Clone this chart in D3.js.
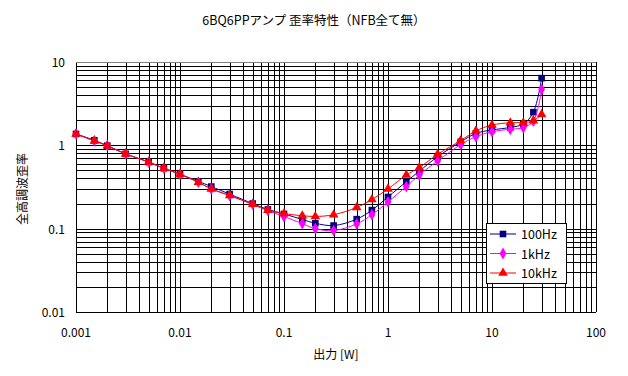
<!DOCTYPE html>
<html>
<head>
<meta charset="utf-8">
<script src="https://cdn.jsdelivr.net/npm/d3@7"></script>
<style>
  body { margin: 0; background: white; }
  text { font-family: "Noto Sans CJK JP", sans-serif; }
</style>
</head>
<body>
<div id="chart"></div>
<script>
const power = [0.001, 0.0015, 0.002, 0.003, 0.005, 0.007, 0.01, 0.015, 0.02, 0.03, 0.05, 0.07,
  0.1, 0.15, 0.2, 0.3, 0.5, 0.7, 1, 1.5, 2, 3, 5, 7, 10, 15, 20, 25, 30];
const thd100 = [1.37, 1.15, 0.99, 0.79, 0.63, 0.53, 0.45, 0.37, 0.32, 0.26, 0.20, 0.17,
  0.15, 0.129, 0.116, 0.109, 0.13, 0.167, 0.24, 0.366, 0.49, 0.73, 1.1, 1.39, 1.53, 1.64, 1.80, 2.5, 6.4];
const thd1k = [1.37, 1.13, 0.99, 0.79, 0.63, 0.53, 0.45, 0.36, 0.30, 0.25, 0.196, 0.165,
  0.14, 0.115, 0.10, 0.095, 0.114, 0.147, 0.21, 0.32, 0.44, 0.65, 1.02, 1.27, 1.46, 1.56, 1.63, 1.95, 4.7];
const thd10k = [1.37, 1.13, 0.99, 0.79, 0.63, 0.53, 0.45, 0.36, 0.30, 0.25, 0.196, 0.167,
  0.152, 0.143, 0.14, 0.147, 0.18, 0.224, 0.30, 0.44, 0.54, 0.78, 1.14, 1.49, 1.75, 1.87, 1.87, 1.98, 2.35];
const seriesNames = ['100Hz', '1kHz', '10kHz'];
const xTicks = [0.001, 0.01, 0.1, 1, 10, 100];
const yTicks = [0.01, 0.1, 1, 10];
const titleText = '6BQ6PPアンプ 歪率特性（NFB全て無）';
const xTitle = '出力 [W]';
const yTitle = '全高調波歪率';

const width = 628, height = 376;
const margin = { top: 62, right: 32, bottom: 64, left: 76 };

const svg = d3.select('#chart')
  .append('svg')
  .attr('width', width)
  .attr('height', height)
  .style('background-color', 'white');

const x = d3.scaleLog().domain([0.001, 100]).range([margin.left, width - margin.right]);
const y = d3.scaleLog().domain([0.01, 10]).range([height - margin.bottom, margin.top]);

// grid lines, 1..9 per decade
const xGrid = [], yGrid = [];
for (let e = -3; e < 2; e++) for (let k = 1; k < 10; k++) xGrid.push(k * Math.pow(10, e));
xGrid.push(100);
for (let e = -2; e < 1; e++) for (let k = 1; k < 10; k++) yGrid.push(k * Math.pow(10, e));
yGrid.push(10);

svg.append('g')
  .selectAll('line')
  .data(xGrid)
  .enter()
  .append('line')
    .attr('x1', d => Math.round(x(d)) + 0.5)
    .attr('x2', d => Math.round(x(d)) + 0.5)
    .attr('y1', y(10))
    .attr('y2', y(0.01))
    .attr('stroke', 'black')
    .attr('shape-rendering', 'crispEdges');

svg.append('g')
  .selectAll('line')
  .data(yGrid)
  .enter()
  .append('line')
    .attr('x1', x(0.001))
    .attr('x2', x(100))
    .attr('y1', d => Math.round(y(d)) + 0.5)
    .attr('y2', d => Math.round(y(d)) + 0.5)
    .attr('stroke', d => d === 10 ? '#808080' : 'black')
    .attr('shape-rendering', 'crispEdges');

// tick labels
svg.append('g')
  .selectAll('text')
  .data(xTicks)
  .enter()
  .append('text')
    .attr('x', d => x(d))
    .attr('y', y(0.01) + 25)
    .attr('text-anchor', 'middle')
    .attr('font-size', '12px')
    .text(d => d);

svg.append('g')
  .selectAll('text')
  .data(yTicks)
  .enter()
  .append('text')
    .attr('x', x(0.001) - 11)
    .attr('y', d => y(d) + 5)
    .attr('text-anchor', 'end')
    .attr('font-size', '12px')
    .text(d => d);

// titles
svg.append('text')
  .attr('x', 314)
  .attr('y', 25)
  .attr('text-anchor', 'middle')
  .attr('font-size', '12.5px')
  .text(titleText);

svg.append('text')
  .attr('x', 336)
  .attr('y', 359)
  .attr('text-anchor', 'middle')
  .attr('font-size', '12px')
  .text(xTitle);

svg.append('text')
  .attr('transform', 'translate(27,189) rotate(-90)')
  .attr('text-anchor', 'middle')
  .attr('font-size', '12px')
  .text(yTitle);

// series
const series = [
  { name: seriesNames[0], values: thd100, color: '#000080', shape: d3.symbolSquare, size: 44 },
  { name: seriesNames[1], values: thd1k, color: '#FF00FF', shape: d3.symbolDiamond, size: 40 },
  { name: seriesNames[2], values: thd10k, color: '#FF0000', shape: d3.symbolTriangle, size: 40 }
];

const line = d3.line()
  .x(d => x(d[0]))
  .y(d => y(d[1]))
  .curve(d3.curveCatmullRom.alpha(0.5));

series.forEach(s => {
  const pts = power.map((p, i) => [p, s.values[i]]);
  const g = svg.append('g');
  g.append('path')
    .datum(pts)
    .attr('d', line)
    .attr('fill', 'none')
    .attr('stroke', s.color)
    .attr('stroke-width', 1);
  g.selectAll('path.mark')
    .data(pts)
    .enter()
    .append('path')
      .attr('class', 'mark')
      .attr('transform', d => `translate(${x(d[0])},${y(d[1])})`)
      .attr('d', d3.symbol().type(s.shape).size(s.size))
      .attr('fill', s.color);
});

// legend
const legend = svg.append('g').attr('transform', 'translate(486,223)');
legend.append('rect')
  .attr('x', 0.5)
  .attr('y', 0.5)
  .attr('width', 80)
  .attr('height', 60)
  .attr('fill', 'white')
  .attr('stroke', 'black');

series.forEach((s, i) => {
  const ly = 11 + i * 19.5;
  legend.append('line')
    .attr('x1', 4)
    .attr('x2', 30)
    .attr('y1', ly)
    .attr('y2', ly)
    .attr('stroke', s.color);
  legend.append('path')
    .attr('transform', `translate(17,${ly})`)
    .attr('d', d3.symbol().type(s.shape).size(s.size))
    .attr('fill', s.color);
  legend.append('text')
    .attr('x', 35)
    .attr('y', ly + 5)
    .attr('font-size', '12.5px')
    .text(s.name);
});
</script>
</body>
</html>
